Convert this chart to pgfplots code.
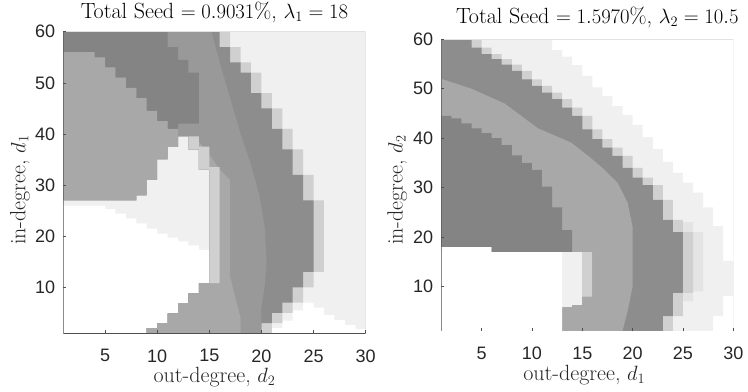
\documentclass[border=0pt]{standalone}
\usepackage{fontspec}
\setsansfont{Liberation Sans}
\usepackage{pgfplots}
\pgfplotsset{compat=1.18}
\definecolor{cL}{HTML}{F0F0F0}
\definecolor{cL2}{HTML}{E4E4E4}
\definecolor{cH}{HTML}{D0D0D0}
\definecolor{c1}{HTML}{848484}
\definecolor{c2}{HTML}{8D8D8D}
\definecolor{c3}{HTML}{999999}
\definecolor{c4}{HTML}{A8A8A8}
\definecolor{axdark}{HTML}{505050}
\definecolor{axlight}{HTML}{E2E2E2}
\definecolor{tickc}{HTML}{262626}
\pgfplotsset{
  every axis title/.style={at={(0.5,1)}, anchor=base},
  hm/.style={
    scale only axis, enlargelimits=false,
    xmin=1, xmax=30, ymin=1, ymax=60,
    xtick={5,10,...,30}, ytick={10,20,...,60},
    tick pos=left, tick align=inside,
    major tick length=3bp,
    tick style={color=axdark, line width=0.6bp},
    axis line style={draw=none},
    axis on top,
    ticklabel style={font=\fontsize{18bp}{20bp}\sffamily, text=tickc},
    /pgf/number format/assume math mode=true,
    xticklabel style={anchor=north, inner sep=0pt, yshift=-16bp},
    yticklabel style={anchor=east, inner sep=0pt, xshift=-8bp},
    label style={font=\fontsize{22bp}{24bp}\selectfont, text=tickc, inner sep=0pt},
    title style={font=\fontsize{22bp}{24bp}\selectfont, text=black, inner sep=0pt},
    xlabel style={anchor=base},
    ylabel style={anchor=base},
  },
  pt/.style={draw=none, forget plot},
}
\newcommand{\frameit}{%
  \draw[axlight, line width=0.8bp] (rel axis cs:0,1) -- (rel axis cs:1,1) -- (rel axis cs:1,0);
  \draw[axdark, line width=0.9bp] (rel axis cs:0,1) -- (rel axis cs:0,0) -- (rel axis cs:1,0);
}
\begin{document}
\begin{tikzpicture}
\path[use as bounding box] (0,0) rectangle (748bp,392bp);
% ---------------- left panel ----------------
\begin{axis}[hm, at={(63.3bp,58.7bp)}, anchor=south west,
  width=302.4bp, height=301.6bp,
  title={Total Seed $= 0.9031\%$, $\lambda_1 = 18$},
  title style={at={(axis description cs:0.5,1.0431)}},
  xlabel={out-degree, $d_2$}, ylabel={in-degree, $d_1$},
  xlabel style={at={(axis description cs:0.5,-0.1615)}},
  ylabel style={at={(axis description cs:-0.1257,0.475)}},
]
% light background
\addplot[pt, fill=cL] coordinates {(1,1)(30,1)(30,60)(1,60)} -- cycle;
% white lower-left
\addplot[pt, fill=white] coordinates {(1,1)(9,1)(9,2)(10,2)(10,3)(11,3)(11,4.9)(12,4.9)(12,6.9)(13,6.9)(13,8.8)(14,8.8)(14,10.8)(15,10.8)(15,17.3)(14,17.3)(14,18.2)(13,18.2)(13,19)(12,19)(12,19.7)(11,19.7)(11,20.5)(10,20.5)(10,21.5)(9,21.5)(9,22.5)(8,22.5)(8,23.5)(7,23.5)(7,24.4)(6,24.4)(6,25.3)(5,25.3)(5,26)(1,26)} -- cycle;
% white bottom-right
\addplot[pt, fill=white] coordinates {(21,1)(21,2)(22,2)(22,3.5)(23,3.5)(23,5.5)(24,5.5)(24,7)(25,7)(25,6)(26,6)(26,4.6)(27,4.6)(27,3.6)(28,3.6)(28,2.6)(29,2.6)(29,1.8)(30,1.8)(30,1)} -- cycle;
% outer halo
\addplot[pt, fill=cH] coordinates {(17,60)(17,57)(18,57)(18,54)(19,54)(19,52)(20,52)(20,48)(21,48)(21,45)(22,45)(22,41)(23,41)(23,37)(24,37)(24,32)(25,32)(25,27)(26,27)(26,13)(25,13)(25,10)(24,10)(24,7)(23,7)(23,5)(22,5)(22,3)(21,3)(21,1)(19,1)(19,5)(21,15)(21,25)(20,33)(17,50)(15.5,60)} -- cycle;
% band union (outer band colour)
\addplot[pt, fill=c2] coordinates {(1,60)(16,60)(16,57)(17,57)(17,54)(18,54)(18,52)(19,52)(19,48)(20,48)(20,45)(21,45)(21,41)(22,41)(22,37)(23,37)(23,32)(24,32)(24,27)(25,27)(25,13)(24,13)(24,10)(23,10)(23,7)(22,7)(22,5)(21,5)(21,3)(20,3)(20,1)(9,1)(9,2)(10,2)(10,3)(11,3)(11,4.9)(12,4.9)(12,6.9)(13,6.9)(13,8.8)(14,8.8)(14,10.8)(15,10.8)(15,33)(14,33)(14,37)(13,37)(13,39.5)(12,39.5)(12,37.5)(11,37.5)(11,35)(10,35)(10,31)(9,31)(9,28)(8,28)(8,27)(1,27)} -- cycle;
% middle band
\addplot[pt, fill=c3] coordinates {(10.5,60)(15.2,60)(16,54)(17,47)(18,40)(19,34)(19.8,28)(20.3,22)(20.5,15)(20.3,10)(20,6)(20,1)(9,1)(9,2)(10,2)(10,3)(11,3)(11,4.9)(12,4.9)(12,6.9)(13,6.9)(13,8.8)(14,8.8)(14,10.8)(15,10.8)(15,33)(14,33)(14,37)(13,37)(13,39.5)(12,39.5)(12,41)(11,42)(10.5,50)} -- cycle;
% inner ring
\addplot[pt, fill=c4] coordinates {(9,1)(18,1)(18,4)(17.5,8)(17,12)(17,31)(16,33)(15,36)(14,38.5)(13,39.5)(13,37)(14,37)(14,33)(15,33)(15,10.8)(14,10.8)(14,8.8)(13,8.8)(13,6.9)(12,6.9)(12,4.9)(11,4.9)(11,3)(10,3)(10,2)(9,2)} -- cycle;
% inner halo cells
\addplot[pt, fill=cH] coordinates {(15,10.8)(16,10.8)(16,33.5)(15,33.5)(15,37.5)(14,37.5)(14,39.5)(13,39.5)(13,37)(14,37)(14,33)(15,33)} -- cycle;
% dark upper band
\addplot[pt, fill=c1] coordinates {(1,60)(11,60)(11,57)(12,57)(12,54.5)(13,54.5)(13,52)(14,52)(14,42)(12,42)(12,41)(11,41)(11,42.5)(10,42.5)(10,44.5)(9,44.5)(9,47)(8,47)(8,49)(7,49)(7,51)(6,51)(6,53)(5,53)(5,55)(4,55)(4,56)(1,56)} -- cycle;
% upper-left blob
\addplot[pt, fill=c4] coordinates {(1,27)(8,27)(8,28)(9,28)(9,31)(10,31)(10,35)(11,35)(11,37.5)(12,37.5)(12,41)(11,41)(11,42.5)(10,42.5)(10,44.5)(9,44.5)(9,47)(8,47)(8,49)(7,49)(7,51)(6,51)(6,53)(5,53)(5,55)(4,55)(4,56)(1,56)} -- cycle;
\frameit
\end{axis}
% ---------------- right panel ----------------
\begin{axis}[hm, at={(441.3bp,61bp)}, anchor=south west,
  width=292bp, height=291.7bp,
  title={Total Seed $= 1.5970\%$, $\lambda_2 = 10.5$},
  title style={at={(axis description cs:0.5342,1.0535)}},
  xlabel={out-degree, $d_1$}, ylabel={in-degree, $d_2$},
  xlabel style={at={(axis description cs:0.4897,-0.169)}},
  ylabel style={at={(axis description cs:-0.1325,0.483)}},
]
% light band region
\addplot[pt, fill=cL] coordinates {(1,1)(1,60)(12,60)(12,57.8)(13,57.8)(13,56.5)(14,56.5)(14,54.8)(15,54.8)(15,52.6)(16,52.6)(16,50.3)(17,50.3)(17,48.5)(18,48.5)(18,46.5)(19,46.5)(19,44.7)(20,44.7)(20,42.7)(21,42.7)(21,40.2)(22,40.2)(22,37.8)(23,37.8)(23,35.2)(24,35.2)(24,33)(25,33)(25,31)(26,31)(26,29)(27,29)(27,26)(28,26)(28,22.2)(29,22.2)(29,15.2)(30,15.2)(30,8.1)(29,8.1)(29,4)(28,4)(28,1)} -- cycle;
\addplot[pt, fill=cL2] coordinates {(25,23)(26,23)(26,21)(27,21)(27,9)(26,9)(26,7)(25,7)} -- cycle;
% halo
\addplot[pt, fill=cH] coordinates {(5,60)(5,58.3)(6,58.3)(6,57)(7,57)(7,56)(8,56)(8,54.9)(9,54.9)(9,53.6)(10,53.6)(10,51.9)(11,51.9)(11,50.6)(12,50.6)(12,49.2)(13,49.2)(13,47.9)(14,47.9)(14,46.2)(15,46.2)(15,44.5)(16,44.5)(16,41.8)(17,41.8)(17,39.8)(18,39.8)(18,38.1)(19,38.1)(19,36.4)(20,36.4)(20,34)(21,34)(21,32)(22,32)(22,30.5)(23,30.5)(23,27.5)(24,27.5)(24,23.5)(25,23.5)(25,21)(26,21)(26,8.7)(25,8.7)(25,4)(24,4)(24,1)(21,1)(22,10)(22,20)(20,30)(14,44)(4,58)(3,60)} -- cycle;
% inner halo beside the light strip
\addplot[pt, fill=cH] coordinates {(15,7.9)(15,17)(16,17)(16,7.9)} -- cycle;
% gray union
\addplot[pt, fill=c2] coordinates {(1,60)(4,60)(4,58.3)(5,58.3)(5,57)(6,57)(6,56)(7,56)(7,54.9)(8,54.9)(8,53.6)(9,53.6)(9,51.9)(10,51.9)(10,50.6)(11,50.6)(11,49.2)(12,49.2)(12,47.9)(13,47.9)(13,46.2)(14,46.2)(14,44.5)(15,44.5)(15,41.8)(16,41.8)(16,39.8)(17,39.8)(17,38.1)(18,38.1)(18,36.4)(19,36.4)(19,34)(20,34)(20,32)(21,32)(21,30.5)(22,30.5)(22,27.5)(23,27.5)(23,23.5)(24,23.5)(24,21)(25,21)(25,8.7)(24,8.7)(24,4)(23,4)(23,1)(13,1)(13,5.8)(14,5.8)(14,6.2)(15,6.2)(15,7.9)(16,7.9)(16,17)(1,17)} -- cycle;
% inner lighter arc
\addplot[pt, fill=c4] coordinates {(1,52)(4,50)(7.3,47)(10.6,42)(13.9,39.1)(15.6,36.4)(17,34)(18.5,31)(19.5,27)(20,22)(20,10)(19.5,5)(19,1)(13,1)(13,5.8)(14,5.8)(14,6.2)(15,6.2)(15,7.9)(16,7.9)(16,17)(1,17)} -- cycle;
% white lower-left
\addplot[pt, fill=white] coordinates {(1,1)(13,1)(13,17)(6,17)(6,18)(1,18)} -- cycle;
% dark region
\addplot[pt, fill=c1] coordinates {(1,18)(6,18)(6,17)(14,17)(14,21.4)(13,21.4)(13,26)(12,26)(12,30.2)(11,30.2)(11,33.6)(10,33.6)(10,35)(9,35)(9,36.5)(8,36.5)(8,38.6)(7,38.6)(7,40)(6,40)(6,41)(5,41)(5,42)(4,42)(4,43)(3,43)(3,44)(2,44)(2,44.5)(1,44.5)} -- cycle;
\frameit
\end{axis}
\end{tikzpicture}
\end{document}
